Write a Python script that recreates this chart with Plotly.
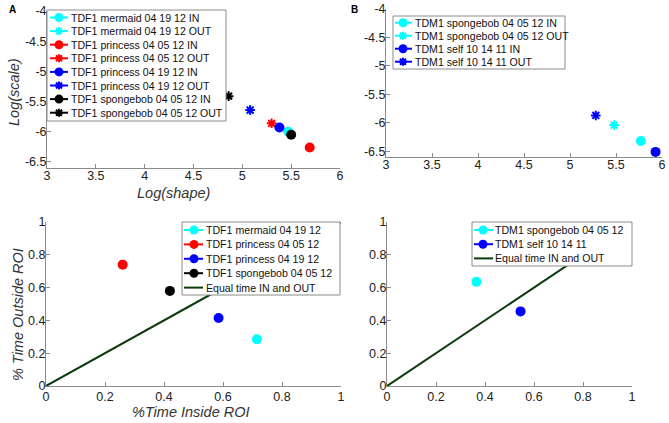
import plotly.graph_objects as go

W, H = 669, 423

# ---------------- data ----------------
names_A = ["TDF1 mermaid 04 19 12 IN", "TDF1 mermaid 04 19 12 OUT",
           "TDF1 princess 04 05 12 IN", "TDF1 princess 04 05 12 OUT",
           "TDF1 princess 04 19 12 IN", "TDF1 princess 04 19 12 OUT",
           "TDF1 spongebob 04 05 12 IN", "TDF1 spongebob 04 05 12 OUT"]
shape_A = [5.47, 5.08, 5.69, 5.30, 5.38, 5.08, 5.50, 4.86]
scale_A = [-6.00, -5.64, -6.26, -5.86, -5.93, -5.64, -6.05, -5.41]
colors_A = ["#00FFFF", "#00FFFF", "#FF0000", "#FF0000", "#0000FF", "#0000FF", "#000000", "#000000"]
kinds_A = ["circle", "asterisk"] * 4

names_B = ["TDM1 spongebob 04 05 12 IN", "TDM1 spongebob 04 05 12 OUT",
           "TDM1 self 10 14 11 IN", "TDM1 self 10 14 11 OUT"]
shape_B = [5.77, 5.48, 5.93, 5.28]
scale_B = [-6.32, -6.04, -6.51, -5.87]
colors_B = ["#00FFFF", "#00FFFF", "#0000FF", "#0000FF"]
kinds_B = ["circle", "asterisk"] * 2

names_C = ["TDF1 mermaid 04 19 12", "TDF1 princess 04 05 12",
           "TDF1 princess 04 19 12", "TDF1 spongebob 04 05 12"]
inside_C = [0.715, 0.26, 0.585, 0.42]
outside_C = [0.285, 0.74, 0.415, 0.58]
colors_C = ["#00FFFF", "#FF0000", "#0000FF", "#000000"]

names_D = ["TDM1 spongebob 04 05 12", "TDM1 self 10 14 11"]
inside_D = [0.365, 0.545]
outside_D = [0.635, 0.455]
colors_D = ["#00FFFF", "#0000FF"]

equal_name = "Equal time IN and OUT"
equal_x = [0, 1]
equal_y = [0, 1]
equal_color = "#0b3b0b"

top_xticks = [3, 3.5, 4, 4.5, 5, 5.5, 6]
top_xlabels = ["3", "3.5", "4", "4.5", "5", "5.5", "6"]
top_yticks = [-4, -4.5, -5, -5.5, -6, -6.5]
top_ylabels = ["-4", "-4.5", "-5", "-5.5", "-6", "-6.5"]
bot_ticks = [0, 0.2, 0.4, 0.6, 0.8, 1]
bot_labels = ["0", "0.2", "0.4", "0.6", "0.8", "1"]

# ---------------- helpers ----------------
def px(x):
    return x / W

def py(y):
    return 1 - y / H

fig = go.Figure()

def add_points(xs, ys, colors, kinds, xa, ya):
    for x, y, c, k in zip(xs, ys, colors, kinds):
        if k == "circle":
            m = dict(symbol="circle", size=10, color=c, line=dict(width=0))
        else:
            m = dict(symbol="asterisk-open", size=8, color=c, line=dict(color=c, width=2))
        fig.add_trace(go.Scatter(x=[x], y=[y], mode="markers", marker=m,
                                 xaxis=xa, yaxis=ya, showlegend=False, hoverinfo="skip"))

add_points(shape_A, scale_A, colors_A, kinds_A, "x", "y")
add_points(shape_B, scale_B, colors_B, kinds_B, "x2", "y2")
add_points(inside_C, outside_C, colors_C, ["circle"] * len(names_C), "x3", "y3")
add_points(inside_D, outside_D, colors_D, ["circle"] * len(names_D), "x4", "y4")
for xa, ya in [("x3", "y3"), ("x4", "y4")]:
    fig.add_trace(go.Scatter(x=equal_x, y=equal_y, mode="lines",
                             line=dict(color=equal_color, width=2),
                             xaxis=xa, yaxis=ya, showlegend=False, hoverinfo="skip"))

# ---------------- axes ----------------
axcommon = dict(showline=True, linecolor="#8a8a8a", linewidth=1, ticks="inside",
                ticklen=4, tickcolor="#8a8a8a", showgrid=False, zeroline=False,
                automargin=False, mirror=False, ticklabeloverflow="allow",
                tickfont=dict(family="Arial, Liberation Sans", size=12.5, color="#222222"))
xtop = dict(ticklabelstandoff=-4, **axcommon)
xbot = dict(ticklabelstandoff=-1, **axcommon)
yall = dict(ticklabelstandoff=-3, **axcommon)

fig.update_layout(
    xaxis=dict(domain=[px(47), px(340)], range=[3, 6], tickvals=top_xticks, ticktext=top_xlabels,
               anchor="y", **xtop),
    yaxis=dict(domain=[py(168), py(11)], range=[-6.6, -4], tickvals=top_yticks, ticktext=top_ylabels,
               anchor="x", **yall),
    xaxis2=dict(domain=[px(386), px(662)], range=[3, 6], tickvals=top_xticks, ticktext=top_xlabels,
                anchor="y2", **xtop),
    yaxis2=dict(domain=[py(157), py(9)], range=[-6.6, -4], tickvals=top_yticks, ticktext=top_ylabels,
                anchor="x2", **yall),
    xaxis3=dict(domain=[px(46), px(341)], range=[0, 1], tickvals=bot_ticks, ticktext=bot_labels,
                anchor="y3", **xbot),
    yaxis3=dict(domain=[py(386), py(222)], range=[0, 1], tickvals=bot_ticks, ticktext=bot_labels,
                anchor="x3", **yall),
    xaxis4=dict(domain=[px(387), px(632)], range=[0, 1], tickvals=bot_ticks, ticktext=bot_labels,
                anchor="y4", **xbot),
    yaxis4=dict(domain=[py(386), py(222)], range=[0, 1], tickvals=bot_ticks, ticktext=bot_labels,
                anchor="x4", **yall),
)

# ---------------- manual legends ----------------
shapes = []
annotations = []

def legend(box, row0, step, line_x, mark_x, text_x, names, colors, kinds):
    l, t, r, b = box
    shapes.append(dict(type="rect", xref="paper", yref="paper", x0=px(l), x1=px(r),
                       y0=py(b), y1=py(t), fillcolor="white",
                       line=dict(color="#8c8c8c", width=1), layer="above"))
    for i, (n, c, k) in enumerate(zip(names, colors, kinds)):
        yy = row0 + i * step
        shapes.append(dict(type="line", xref="paper", yref="paper", x0=px(line_x[0]), x1=px(line_x[1]),
                           y0=py(yy), y1=py(yy), line=dict(color=c, width=2), layer="above"))
        if k == "circle":
            shapes.append(dict(type="circle", xref="paper", yref="paper", xsizemode="pixel",
                               ysizemode="pixel", xanchor=px(mark_x), yanchor=py(yy),
                               x0=-4.5, x1=4.5, y0=-4.5, y1=4.5, fillcolor=c,
                               line=dict(width=0), layer="above"))
        elif k == "asterisk":
            shapes.append(dict(type="path", xref="paper", yref="paper", xsizemode="pixel",
                               ysizemode="pixel", xanchor=px(mark_x), yanchor=py(yy),
                               path="M-4,0H4M0,-4V4M-3,-3L3,3M-3,3L3,-3",
                               line=dict(color=c, width=2), layer="above"))
        annotations.append(dict(x=px(text_x), y=py(yy), xref="paper", yref="paper", text=n,
                                showarrow=False, xanchor="left", yanchor="middle",
                                font=dict(family="Arial, Liberation Sans", size=10.6, color="#111111")))

legend((47, 10, 226, 121), 17.5, 13.6, (50, 68), 59, 69, names_A, colors_A, kinds_A)
legend((393, 16, 565, 69), 22.7, 13.0, (395, 412), 403, 413, names_B, colors_B, kinds_B)
legend((182, 222, 340, 295), 230, 14.4, (184, 203), 194, 204,
       names_C + [equal_name], colors_C + [equal_color], ["circle"] * len(names_C) + ["line"])
legend((472, 222, 632, 266), 230, 14.2, (474, 493), 483, 493,
       names_D + [equal_name], colors_D + [equal_color], ["circle"] * len(names_D) + ["line"])

# ---------------- labels ----------------
lab_font = dict(family="Arial, Liberation Sans", size=14.5, color="#333333")

def label(text, x, y, angle=0, font=lab_font):
    annotations.append(dict(x=px(x), y=py(y), xref="paper", yref="paper", text=text,
                            showarrow=False, xanchor="center", yanchor="middle",
                            textangle=angle, font=font))

label("<i>Log(scale)</i>", 14, 92, -90)
label("<i>Log(shape)</i>", 174, 193)
label("<i>% Time Outside ROI</i>", 18, 315, -90)
label("<i>%Time Inside ROI</i>", 191, 412)
label("<b>A</b>", 13, 9, 0, dict(family="Arial, Liberation Sans", size=10, color="#000000"))
label("<b>B</b>", 354, 9, 0, dict(family="Arial, Liberation Sans", size=10, color="#000000"))

fig.update_layout(width=W, height=H, autosize=False, margin=dict(l=0, r=0, t=0, b=0),
                  paper_bgcolor="white", plot_bgcolor="white", showlegend=False,
                  shapes=shapes, annotations=annotations)

fig.write_html("out.html", config={"displayModeBar": False},
               post_script="document.body.style.margin='0px';")
